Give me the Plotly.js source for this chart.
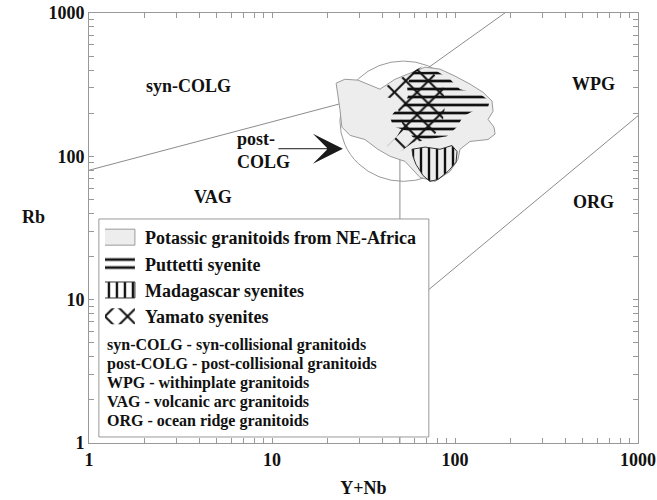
<!DOCTYPE html>
<html>
<head>
<meta charset="utf-8">
<script src="https://cdn.plot.ly/plotly-3.0.1.min.js"></script>
<style>
  html, body { margin: 0; padding: 0; background: #fff; }
  #chart { width: 657px; height: 500px; }
</style>
</head>
<body>
<div id="chart"></div>
<script>
// Rb vs (Y+Nb) tectonic discrimination diagram for granitoids (log-log)

// Field boundaries (Y+Nb, Rb)
const synVagX = [1, 50],    synVagY = [80, 300];
const synWpgX = [50, 400],  synWpgY = [300, 2000];
const vagWpgX = [50, 50],   vagWpgY = [300, 8];
const vagOrgX = [50, 50],   vagOrgY = [8, 1];
const wpgOrgX = [50, 2000], wpgOrgY = [8, 400];

// post-COLG field (bounding box of the circle)
const postColgX = [23.5, 116];
const postColgY = [66.9, 462];

// Outlined compositional fields
const potassicX = [22.4, 25.0, 29.5, 34.3, 38.9, 47.0, 56.8, 68.6, 82.8, 100, 120.8, 142.2, 159.3, 161.4, 151.5, 163.3, 165.5, 151.5, 120.8, 106.5, 103.8, 94.0, 77.8, 64.4, 53.3, 44.2, 37.9, 32.2, 26.7, 24.1, 23.5, 22.9, 22.4];
const potassicY = [324, 345, 340, 314, 294, 345, 380, 419, 406, 363, 319, 280, 243, 206, 181, 160, 143, 131, 127, 112, 95.3, 78.5, 66.8, 71.3, 92.2, 100, 112, 131, 140, 160, 213, 272, 324];

const puttettiX = [58.9, 79.7, 94.0, 106.5, 137, 155, 151.5, 125, 110.6, 102.6, 90.4, 70.3, 58.9, 54.7, 45.8, 44.2, 47.0, 52.0, 55.3, 54.7, 56.8, 58.9];
const puttettiY = [387, 393, 345, 294, 272, 243, 220, 206, 190, 160, 138, 131, 136, 150, 162, 187, 206, 224, 263, 309, 357, 387];

const madagascarX = [58.2, 68.6, 82.8, 96.3, 102.6, 101.3, 91.6, 80.7, 73.0, 66.8, 61.2, 58.9, 58.2];
const madagascarY = [112, 116, 112, 119, 108, 90.8, 78.5, 69.0, 66.8, 73.6, 87.9, 100, 112];

const yamatoX = [37.5, 66.8, 74.9, 86.0, 88.2, 84.9, 73.0, 58.9, 50.0, 42.5, 48.2, 52.0, 48.8, 47.0, 40.4, 37.5];
const yamatoY = [285, 426, 393, 309, 224, 162, 131, 125, 107, 117, 138, 162, 213, 250, 263, 285];

// Series names
const seriesNames = ['Potassic granitoids from NE-Africa', 'Puttetti syenite', 'Madagascar syenites', 'Yamato syenites'];

// Field labels and their anchor points (Y+Nb, Rb)
const fieldLabels = ['syn-COLG', 'WPG', 'VAG', 'ORG'];
const fieldLabelX = [3.48, 568, 4.76, 568];
const fieldLabelY = [309, 319, 51.7, 48.4];

// post-COLG pointer: label centre and arrow tip (Y+Nb, Rb)
const postColgLabel = 'post-<br>COLG';
const postColgLabelX = 9.04, postColgLabelY = 110;
const postColgArrowX = 24.4, postColgArrowY = 113;

// Abbreviation notes
const notes = [
  'syn-COLG - syn-collisional granitoids',
  'post-COLG - post-collisional granitoids',
  'WPG - withinplate granitoids',
  'VAG - volcanic arc granitoids',
  'ORG - ocean ridge granitoids'
];

// Axis tick labels (one per decade)
const decadeLabels = ['1', '10', '100', '1000'];

const SERIF = 'Liberation Serif';
const INK = '#111';
const GREY = '#8c8c8c';

// ticks: every digit of each decade, labels only at decades
const tickVals = [], tickText = [];
decadeLabels.forEach((lab, i) => {
  const base = Math.pow(10, i);
  const lastDigit = i === decadeLabels.length - 1 ? 1 : 9;
  for (let d = 1; d <= lastDigit; d++) {
    tickVals.push(base * d);
    tickText.push(d === 1 ? lab : '');
  }
});

const boundary = (x, y) => ({
  x, y, type: 'scatter', mode: 'lines',
  line: { color: GREY, width: 1 },
  showlegend: false, hoverinfo: 'skip'
});

const traces = [
  boundary(synVagX, synVagY),
  boundary(synWpgX, synWpgY),
  boundary(vagWpgX, vagWpgY),
  boundary(vagOrgX, vagOrgY),
  boundary(wpgOrgX, wpgOrgY),
  {
    x: potassicX, y: potassicY, name: seriesNames[0],
    type: 'scatter', mode: 'lines', fill: 'toself',
    fillcolor: '#ededed', line: { color: '#9a9a9a', width: 1 }
  },
  {
    x: puttettiX, y: puttettiY, name: seriesNames[1],
    type: 'scatter', mode: 'lines', fill: 'toself',
    fillcolor: 'rgba(0,0,0,0)', line: { color: 'rgba(0,0,0,0)', width: 0 },
    fillpattern: { shape: '-', size: 8, solidity: 0.34, fgcolor: INK, fgopacity: 1, fillmode: 'overlay' }
  },
  {
    x: madagascarX, y: madagascarY, name: seriesNames[2],
    type: 'scatter', mode: 'lines', fill: 'toself',
    fillcolor: 'rgba(0,0,0,0)', line: { color: '#333', width: 1 },
    fillpattern: { shape: '|', size: 8, solidity: 0.3, fgcolor: INK, fgopacity: 1, fillmode: 'overlay' }
  },
  {
    x: yamatoX, y: yamatoY, name: seriesNames[3],
    type: 'scatter', mode: 'lines', fill: 'toself',
    fillcolor: 'rgba(0,0,0,0)', line: { color: 'rgba(0,0,0,0)', width: 0 },
    fillpattern: { shape: 'x', size: 16, solidity: 0.24, fgcolor: INK, fgopacity: 1, fillmode: 'overlay' }
  }
];

const labelFont = { family: SERIF, size: 18, color: INK, weight: 'bold' };

const annotations = fieldLabels.map((t, i) => ({
  text: t, x: Math.log10(fieldLabelX[i]), y: Math.log10(fieldLabelY[i]),
  xref: 'x', yref: 'y', showarrow: false, font: labelFont
}));

annotations.push({
  text: postColgLabel, align: 'left',
  x: Math.log10(postColgLabelX), y: Math.log10(postColgLabelY), xref: 'x', yref: 'y',
  showarrow: false, font: labelFont
});

annotations.push({
  text: '', x: Math.log10(postColgArrowX), y: Math.log10(postColgArrowY), xref: 'x', yref: 'y',
  ax: -66, ay: 0, showarrow: true, arrowhead: 3, arrowsize: 5, arrowwidth: 1,
  arrowcolor: '#1a1a1a'
});

annotations.push({
  text: 'Rb', xref: 'paper', yref: 'paper', x: -0.126, y: 0.526,
  showarrow: false, font: labelFont
});

notes.forEach((t, i) => {
  annotations.push({
    text: t, xref: 'paper', yref: 'paper',
    x: 0.029, y: 0.228 - i * 0.0443, xanchor: 'left', yanchor: 'middle',
    showarrow: false, font: { family: SERIF, size: 16, color: INK, weight: 'bold' }
  });
});

const axisCommon = {
  type: 'log', range: [0, 3],
  tickvals: tickVals, ticktext: tickText,
  ticks: 'inside', ticklen: 5, tickwidth: 1, tickcolor: '#999',
  showline: true, linecolor: '#999', linewidth: 1, mirror: 'allticks',
  showgrid: false, zeroline: false,
  tickfont: { family: SERIF, size: 18, color: INK, weight: 'bold' }
};

const layout = {
  width: 657, height: 500,
  margin: { l: 89, r: 19, t: 13, b: 57 },
  paper_bgcolor: '#fff', plot_bgcolor: '#fff',
  font: { family: SERIF, color: INK },
  xaxis: Object.assign({}, axisCommon, {
    title: { text: 'Y+Nb', font: labelFont, standoff: 12 }
  }),
  yaxis: Object.assign({}, axisCommon),
  showlegend: true,
  legend: {
    x: 0.029, y: 0.521, xanchor: 'left', yanchor: 'top',
    bgcolor: 'rgba(0,0,0,0)', borderwidth: 0,
    font: { family: SERIF, size: 18, color: INK, weight: 'bold' },
    tracegroupgap: 0
  },
  shapes: [
    {
      type: 'circle', xref: 'x', yref: 'y',
      x0: postColgX[0], x1: postColgX[1], y0: postColgY[0], y1: postColgY[1],
      line: { color: '#9a9a9a', width: 1 }, layer: 'below'
    },
    {
      type: 'rect', xref: 'paper', yref: 'paper',
      x0: 0.018, x1: 0.619, y0: 0.014, y1: 0.521,
      fillcolor: '#fff', line: { color: '#999', width: 1 }, layer: 'above'
    }
  ],
  annotations
};

// Legend keys: draw each swatch as a boxed sample of its fill
const SWATCH = 'M-2,-8h32v16h-32z';
Plotly.newPlot('chart', traces, layout, { displayModeBar: false, staticPlot: true }).then(gd => {
  gd.querySelectorAll('.legend .traces').forEach(g => {
    g.querySelectorAll('.legendfill path').forEach(p => p.setAttribute('d', SWATCH));
    g.querySelectorAll('.legendlines path').forEach(p => {
      p.setAttribute('d', SWATCH);
      p.style.fill = 'none';
    });
  });
});
</script>
</body>
</html>
